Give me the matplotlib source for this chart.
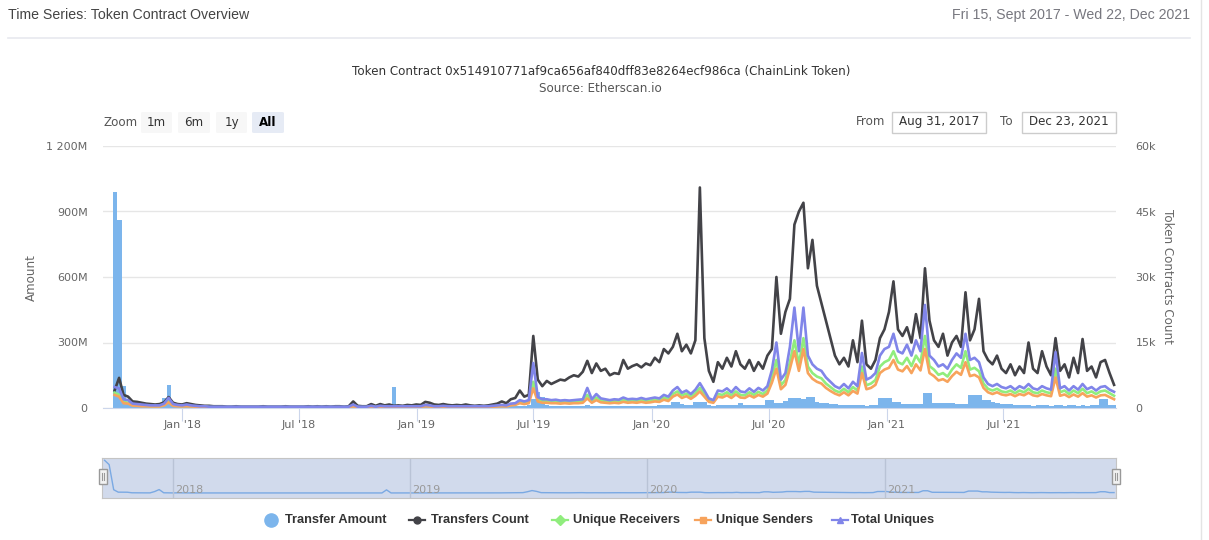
import matplotlib.pyplot as plt
import matplotlib.patches as mpatches
from matplotlib.lines import Line2D
import pandas as pd

plt.rcParams['font.family'] = ['DejaVu Sans']

W, H = 1209, 540


def fx(x):
    return x / W


def fy(y):
    return 1 - y / H


# weekly values, first week starts 2017-09-15
# transfer amount in millions of tokens
transfer_amount = [
    990, 860, 100, 27, 27, 25, 8, 6, 6, 5,
    5, 45, 105, 8, 5, 4, 6, 4, 3, 3,
    3, 3, 2, 2, 2, 2, 2, 2, 2, 2,
    2, 2, 2, 2, 2, 2, 2, 2, 2, 2,
    2, 2, 2, 2, 2, 2, 2, 2, 2, 2,
    2, 2, 2, 6, 3, 2, 2, 3, 2, 3,
    3, 3, 96, 3, 3, 3, 3, 3, 3, 6,
    5, 3, 3, 3, 3, 3, 3, 3, 3, 3,
    3, 3, 3, 3, 4, 5, 5, 5, 8, 8,
    10, 10, 12, 40, 75, 50, 12, 10, 8, 9,
    8, 10, 7, 9, 8, 12, 8, 10, 9, 7,
    8, 9, 7, 10, 8, 9, 8, 9, 10, 8,
    10, 12, 14, 15, 27, 27, 18, 16, 15, 27,
    27, 27, 12, 10, 12, 14, 12, 15, 13, 21,
    12, 14, 12, 13, 12, 37, 37, 22, 25, 30,
    46, 46, 46, 40, 50, 50, 27, 25, 23, 20,
    18, 15, 14, 12, 13, 12, 14, 11, 12, 14,
    46, 46, 46, 27, 27, 18, 18, 18, 18, 18,
    69, 69, 23, 23, 23, 23, 23, 20, 18, 18,
    60, 60, 60, 37, 37, 27, 22, 20, 18, 20,
    14, 12, 15, 12, 10, 12, 14, 12, 10, 12,
    12, 10, 12, 14, 11, 12, 10, 12, 13, 40,
    40, 14, 14,
]

# counts in thousands
transfers_count = [
    4.0, 6.9, 3.0, 2.6, 1.5, 1.4, 1.2, 1.0, 0.9, 0.8,
    0.9, 1.3, 2.5, 1.2, 0.9, 0.8, 1.1, 0.9, 0.7, 0.6,
    0.5, 0.5, 0.4, 0.4, 0.4, 0.3, 0.3, 0.4, 0.3, 0.3,
    0.3, 0.3, 0.3, 0.4, 0.3, 0.3, 0.3, 0.3, 0.4, 0.3,
    0.3, 0.3, 0.3, 0.4, 0.3, 0.4, 0.3, 0.4, 0.3, 0.4,
    0.4, 0.3, 0.4, 1.5, 0.5, 0.4, 0.4, 0.9, 0.5, 0.9,
    0.6, 0.8, 0.5, 0.6, 0.5, 0.7, 0.6, 0.8, 0.7, 1.4,
    1.2, 0.8, 0.7, 0.9, 0.7, 0.6, 0.7, 0.6, 0.8, 0.6,
    0.5, 0.6, 0.5, 0.6, 0.8, 1.0, 1.5, 1.1, 2.0, 2.3,
    4.0, 2.6, 3.0, 16.5, 6.5, 5.0, 6.2, 5.5, 6.0, 6.5,
    6.3, 7.0, 7.5, 7.2, 8.3, 10.8, 8.0, 10.2, 8.5, 9.0,
    7.5, 8.0, 7.8, 11.0, 9.0, 9.6, 10.0, 9.3, 10.2, 9.8,
    11.5, 10.5, 13.5, 12.5, 14.0, 17.0, 13.0, 14.5, 12.5, 15.5,
    50.5, 16.0, 8.5, 6.0, 10.5, 9.0, 11.5, 9.5, 13.0, 10.0,
    9.0, 11.0, 8.5, 10.5, 9.0, 12.0, 13.5, 30.0, 17.0, 22.0,
    25.0, 42.0, 45.0, 47.0, 32.0, 38.5, 28.0, 24.0, 20.0, 16.0,
    12.0, 10.0, 11.5, 9.5, 15.5, 10.5, 20.0, 10.0, 9.0, 11.0,
    16.0, 18.0, 22.0, 29.0, 18.0, 16.5, 18.5, 15.0, 21.5, 16.0,
    32.0, 20.0, 15.5, 14.0, 17.0, 12.0, 15.0, 16.5, 14.0, 26.5,
    15.5, 18.0, 25.0, 13.0, 11.0, 10.0, 12.0, 9.0, 8.0, 10.0,
    7.5, 9.5, 8.0, 15.0, 9.0, 8.0, 13.0, 9.5, 7.5, 16.0,
    8.5, 10.0, 7.0, 11.5, 8.0, 15.8, 8.5, 9.5, 7.0, 10.5,
    11.0, 8.0, 5.3,
]

unique_receivers = [
    3.5, 3.0, 1.4, 1.2, 0.7, 0.6, 0.5, 0.5, 0.4, 0.4,
    0.4, 0.7, 1.6, 0.6, 0.5, 0.4, 0.5, 0.4, 0.35, 0.3,
    0.3, 0.2, 0.2, 0.2, 0.2, 0.2, 0.2, 0.2, 0.2, 0.2,
    0.2, 0.2, 0.2, 0.2, 0.2, 0.2, 0.2, 0.2, 0.2, 0.2,
    0.2, 0.2, 0.2, 0.2, 0.2, 0.2, 0.2, 0.2, 0.2, 0.2,
    0.2, 0.2, 0.2, 0.5, 0.2, 0.2, 0.2, 0.35, 0.2, 0.35,
    0.3, 0.3, 0.3, 0.3, 0.3, 0.3, 0.3, 0.3, 0.3, 0.5,
    0.4, 0.3, 0.3, 0.35, 0.3, 0.3, 0.3, 0.3, 0.3, 0.3,
    0.3, 0.3, 0.3, 0.3, 0.35, 0.45, 0.5, 0.45, 0.8, 0.9,
    1.4, 1.2, 1.4, 6.0, 2.0, 1.6, 1.6, 1.4, 1.5, 1.4,
    1.4, 1.4, 1.4, 1.5, 1.6, 3.0, 1.6, 2.4, 1.7, 1.6,
    1.4, 1.6, 1.5, 1.8, 1.6, 1.7, 1.6, 1.8, 1.6, 1.7,
    1.9, 1.8, 2.4, 2.1, 3.2, 3.8, 2.9, 3.3, 2.6, 3.4,
    4.6, 3.2, 1.8, 1.5, 3.2, 3.0, 3.6, 2.9, 3.8, 3.0,
    2.9, 3.6, 3.0, 3.7, 3.2, 4.0, 7.0, 11.0, 5.2, 6.4,
    10.5, 15.5, 10.0, 16.0, 9.5, 8.0, 7.2, 6.8, 5.6, 4.8,
    4.0, 3.6, 4.4, 3.6, 4.8, 4.0, 9.5, 5.2, 5.6, 6.4,
    9.5, 10.5, 11.0, 13.0, 10.5, 10.0, 11.5, 9.6, 12.0, 10.4,
    16.5, 9.6, 8.8, 7.6, 8.0, 7.2, 8.8, 10.0, 9.2, 13.0,
    8.8, 9.2, 8.4, 5.6, 4.4, 4.0, 4.4, 3.8, 3.6, 4.0,
    3.4, 4.0, 3.6, 4.4, 3.6, 3.4, 4.0, 3.6, 3.4, 9.0,
    3.6, 4.0, 3.2, 4.0, 3.4, 4.4, 3.4, 3.8, 3.2, 3.8,
    4.0, 3.4, 2.8,
]

unique_senders = [
    3.0, 2.6, 1.1, 1.0, 0.55, 0.5, 0.4, 0.4, 0.35, 0.35,
    0.35, 0.6, 1.3, 0.5, 0.4, 0.35, 0.4, 0.35, 0.3, 0.25,
    0.25, 0.15, 0.15, 0.15, 0.15, 0.15, 0.15, 0.15, 0.15, 0.15,
    0.15, 0.15, 0.15, 0.15, 0.15, 0.15, 0.15, 0.15, 0.15, 0.15,
    0.15, 0.15, 0.15, 0.15, 0.15, 0.15, 0.15, 0.15, 0.15, 0.15,
    0.15, 0.15, 0.15, 0.4, 0.15, 0.15, 0.15, 0.3, 0.15, 0.3,
    0.25, 0.25, 0.25, 0.25, 0.25, 0.25, 0.25, 0.25, 0.25, 0.4,
    0.35, 0.25, 0.25, 0.3, 0.25, 0.25, 0.25, 0.25, 0.25, 0.25,
    0.25, 0.25, 0.25, 0.25, 0.3, 0.35, 0.4, 0.35, 0.6, 0.7,
    1.1, 0.9, 1.1, 4.5, 1.5, 1.2, 1.2, 1.1, 1.1, 1.0,
    1.1, 1.0, 1.1, 1.1, 1.2, 2.2, 1.2, 1.8, 1.3, 1.2,
    1.1, 1.2, 1.1, 1.4, 1.2, 1.3, 1.2, 1.4, 1.2, 1.3,
    1.5, 1.4, 1.9, 1.6, 2.6, 3.1, 2.3, 2.7, 2.1, 2.8,
    3.8, 2.6, 1.4, 1.2, 2.6, 2.4, 2.9, 2.3, 3.1, 2.4,
    2.3, 2.9, 2.4, 3.0, 2.6, 3.3, 5.8, 9.0, 4.3, 5.3,
    9.0, 13.0, 8.5, 13.5, 8.0, 6.7, 6.0, 5.6, 4.6, 3.9,
    3.3, 2.9, 3.6, 2.9, 3.9, 3.3, 8.0, 4.3, 4.6, 5.3,
    8.0, 8.8, 9.2, 11.0, 8.8, 8.4, 9.6, 8.0, 10.0, 8.6,
    13.5, 8.0, 7.3, 6.3, 6.6, 6.0, 7.3, 8.3, 7.6, 10.5,
    7.3, 7.6, 7.0, 4.6, 3.6, 3.2, 3.6, 3.1, 2.9, 3.2,
    2.7, 3.2, 2.9, 3.5, 2.9, 2.7, 3.2, 2.9, 2.7, 7.0,
    2.8, 3.1, 2.5, 3.1, 2.6, 3.4, 2.6, 2.9, 2.4, 2.9,
    3.0, 2.5, 2.0,
]

total_uniques = [
    4.8, 4.5, 2.0, 1.8, 1.0, 0.9, 0.8, 0.7, 0.6, 0.6,
    0.6, 1.0, 2.3, 0.9, 0.7, 0.6, 0.8, 0.6, 0.5, 0.4,
    0.4, 0.3, 0.3, 0.3, 0.3, 0.3, 0.3, 0.3, 0.3, 0.3,
    0.3, 0.3, 0.3, 0.3, 0.3, 0.3, 0.3, 0.3, 0.3, 0.3,
    0.3, 0.3, 0.3, 0.3, 0.3, 0.3, 0.3, 0.3, 0.3, 0.3,
    0.3, 0.3, 0.3, 0.8, 0.3, 0.3, 0.3, 0.5, 0.3, 0.5,
    0.4, 0.4, 0.4, 0.4, 0.4, 0.4, 0.4, 0.4, 0.4, 0.7,
    0.6, 0.4, 0.4, 0.5, 0.4, 0.4, 0.4, 0.4, 0.4, 0.4,
    0.4, 0.4, 0.4, 0.4, 0.5, 0.6, 0.7, 0.6, 1.0, 1.1,
    1.8, 1.5, 1.8, 10.3, 2.5, 2.0, 2.0, 1.8, 1.9, 1.7,
    1.8, 1.7, 1.8, 1.9, 2.0, 4.6, 2.0, 3.2, 2.2, 2.0,
    1.8, 2.0, 1.9, 2.4, 2.0, 2.1, 2.0, 2.3, 2.0, 2.2,
    2.4, 2.2, 3.0, 2.6, 4.0, 4.8, 3.5, 4.0, 3.2, 4.2,
    5.7, 4.0, 2.2, 1.8, 4.0, 3.8, 4.5, 3.6, 4.8, 3.8,
    3.6, 4.5, 3.7, 4.6, 4.0, 5.0, 8.7, 15.0, 6.5, 8.0,
    14.0, 23.0, 13.0, 23.0, 12.0, 10.0, 9.0, 8.5, 7.0, 6.0,
    5.0, 4.5, 5.5, 4.5, 6.0, 5.0, 12.6, 6.5, 7.0, 8.0,
    12.0, 13.5, 14.0, 17.0, 13.0, 12.5, 14.5, 12.0, 15.5, 13.0,
    23.6, 12.0, 11.0, 9.5, 10.0, 9.0, 11.0, 12.5, 11.5, 17.0,
    11.0, 11.5, 10.5, 7.0, 5.5, 5.0, 5.5, 4.8, 4.5, 5.0,
    4.2, 5.0, 4.5, 5.5, 4.5, 4.2, 5.0, 4.5, 4.2, 12.8,
    4.5, 5.0, 4.0, 5.0, 4.2, 5.5, 4.3, 4.8, 4.0, 4.8,
    5.0, 4.2, 3.7,
]

x_ticks = ['2018-01-01', '2018-07-01', '2019-01-01', '2019-07-01',
           '2020-01-01', '2020-07-01', '2021-01-01', '2021-07-01']
x_labels = ["Jan '18", "Jul '18", "Jan '19", "Jul '19",
            "Jan '20", "Jul '20", "Jan '21", "Jul '21"]
amount_ticks = [0, 300, 600, 900, 1200]
amount_labels = ['0', '300M', '600M', '900M', '1 200M']
count_ticks = [0, 15, 30, 45, 60]
count_labels = ['0', '15k', '30k', '45k', '60k']
nav_years = ['2018', '2019', '2020', '2021']

n = len(transfers_count)
assert all(len(s) == n for s in
           [transfer_amount, unique_receivers, unique_senders, total_uniques])

weeks = pd.date_range('2017-09-15', periods=n, freq='7D')
mid = weeks + pd.Timedelta(days=3)

C_AMOUNT = '#7cb5ec'
C_COUNT = '#434348'
C_RECV = '#90ed7d'
C_SEND = '#f7a35c'
C_UNIQ = '#8085e9'
GRID = '#e6e6e6'
LABEL = '#666666'
LW = 1.9

fig = plt.figure(figsize=(W / 100, H / 100), dpi=100)

# header
narrow = ['Liberation Sans Narrow', 'Liberation Sans', 'DejaVu Sans']
fig.text(fx(8), fy(15), 'Time Series: Token Contract Overview', family=narrow,
         fontsize=10.2, color='#444444', ha='left', va='center')
fig.text(fx(1190), fy(15), 'Fri 15, Sept 2017 - Wed 22, Dec 2021', family=narrow,
         fontsize=10.2, color='#77777f', ha='right', va='center')
fig.add_artist(Line2D([fx(8), fx(1190)], [fy(38), fy(38)], color='#e7e9ef', lw=1.2))
fig.add_artist(Line2D([fx(1201), fx(1201)], [0, 1], color='#e4e4e4', lw=1))

fig.text(0.497, fy(71), 'Token Contract 0x514910771af9ca656af840dff83e8264ecf986ca (ChainLink Token)',
         fontsize=8.6, color='#333333', ha='center', va='center')
fig.text(0.497, fy(88), 'Source: Etherscan.io', fontsize=8.6, color='#555555',
         ha='center', va='center')

# range selector
fig.text(fx(103), fy(123), 'Zoom', fontsize=8.6, color='#555555', ha='left', va='center')
buttons = [('1m', 141, 172), ('6m', 178, 210), ('1y', 216, 247), ('All', 252, 284)]
for lab, x0, x1 in buttons:
    sel = lab == 'All'
    fig.add_artist(mpatches.FancyBboxPatch(
        (fx(x0), fy(133)), (x1 - x0) / W, 21 / H,
        boxstyle='round,pad=0,rounding_size=0.002', transform=fig.transFigure,
        facecolor='#e6ebf5' if sel else '#f7f7f7', edgecolor='none'))
    fig.text(fx((x0 + x1) / 2), fy(122.5), lab, fontsize=8.6,
             color='#000000' if sel else '#333333',
             fontweight='bold' if sel else 'normal', ha='center', va='center')

fig.text(fx(885), fy(122), 'From', fontsize=8.6, color='#555555', ha='right', va='center')
fig.text(fx(1013), fy(122), 'To', fontsize=8.6, color='#555555', ha='right', va='center')
for lab, x0, x1 in [('Aug 31, 2017', 892, 986), ('Dec 23, 2021', 1022, 1116)]:
    fig.add_artist(mpatches.Rectangle((fx(x0), fy(133)), (x1 - x0) / W, 21 / H,
                                      transform=fig.transFigure, facecolor='white',
                                      edgecolor='#cccccc', lw=1))
    fig.text(fx((x0 + x1) / 2), fy(122), lab, fontsize=8.6, color='#333333',
             ha='center', va='center')

# main chart
ax = fig.add_axes([fx(103), fy(408), (1116 - 103) / W, (408 - 146) / H])
ax.bar(weeks, transfer_amount, width=7, align='edge', color=C_AMOUNT, linewidth=0)
ax.set_ylim(0, 1200)
ax.set_xlim(pd.Timestamp('2017-08-31'), pd.Timestamp('2021-12-23'))
ax.set_yticks(amount_ticks)
ax.set_yticklabels(amount_labels)
ax.set_xticks(pd.to_datetime(x_ticks))
ax.set_xticklabels(x_labels)
ax.grid(axis='y', color=GRID, lw=1)
ax.set_axisbelow(True)
for s in ['top', 'left', 'right']:
    ax.spines[s].set_visible(False)
ax.spines['bottom'].set_color('#ccd6eb')
ax.tick_params(axis='x', length=9, color='#ccd6eb', labelcolor=LABEL,
               labelsize=8, pad=0)
ax.tick_params(axis='y', length=0, labelcolor=LABEL, labelsize=8, pad=11)

ax2 = ax.twinx()
ax2.plot(mid, transfers_count, color=C_COUNT, lw=LW)
ax2.plot(mid, unique_receivers, color=C_RECV, lw=LW)
ax2.plot(mid, unique_senders, color=C_SEND, lw=LW)
ax2.plot(mid, total_uniques, color=C_UNIQ, lw=LW)
ax2.set_ylim(0, 60)
ax2.set_yticks(count_ticks)
ax2.set_yticklabels(count_labels)
for s in ax2.spines.values():
    s.set_visible(False)
ax2.tick_params(axis='y', length=0, labelcolor=LABEL, labelsize=8, pad=14)

fig.text(fx(31), fy(278), 'Amount', rotation=90, fontsize=8.6, color=LABEL,
         ha='center', va='center')
fig.text(fx(1167), fy(276), 'Token Contracts Count', rotation=270, fontsize=8.6,
         color=LABEL, ha='center', va='center')

# navigator
nav = fig.add_axes([fx(102), fy(498), (1116 - 102) / W, 40 / H])
nav.set_facecolor('#d1daec')
nav.plot(mid, transfer_amount, color='#7aa9e3', lw=1)
nav.set_xlim(pd.Timestamp('2017-09-14'), pd.Timestamp('2021-12-23'))
nav.set_ylim(-150, 1060)
for yr in nav_years:
    d = pd.Timestamp(yr + '-01-01')
    nav.axvline(d, color='#b9c3d6', lw=1)
    nav.text(d + pd.Timedelta(days=4), -70, yr, fontsize=8, color='#999999',
             ha='left', va='bottom')
nav.set_xticks([])
nav.set_yticks([])
for s in nav.spines.values():
    s.set_color('#c4c4c4')
for xc in [103, 1116]:
    fig.add_artist(mpatches.Rectangle((fx(xc - 4), fy(484)), 8 / W, 15 / H,
                                      transform=fig.transFigure, facecolor='#f2f2f2',
                                      edgecolor='#999999', lw=1, zorder=5))
    for dx in [-1.2, 1.2]:
        fig.add_artist(Line2D([fx(xc + dx), fx(xc + dx)], [fy(480), fy(473)],
                              color='#999999', lw=0.8, zorder=6))

# legend
leg_y = fy(520)
fig.add_artist(Line2D([fx(271)], [leg_y], marker='o', markersize=9.5, color=C_AMOUNT,
                      linestyle='none'))
items = [
    (271, 285, 'Transfer Amount', None, None),
    (417, 431, 'Transfers Count', C_COUNT, 'o'),
    (560, 573, 'Unique Receivers', C_RECV, 'D'),
    (703, 716, 'Unique Senders', C_SEND, 's'),
    (840, 851, 'Total Uniques', C_UNIQ, '^'),
]
for xm, xt, lab, col, mk in items:
    if col is not None:
        fig.add_artist(Line2D([fx(xm - 8), fx(xm + 8)], [leg_y, leg_y], color=col, lw=1.6))
        fig.add_artist(Line2D([fx(xm)], [leg_y], marker=mk, markersize=5, color=col,
                              linestyle='none'))
    fig.text(fx(xt), leg_y, lab, family=['Liberation Sans', 'DejaVu Sans'],
             fontsize=9.2, fontweight='bold', color='#333333', ha='left', va='center')

fig.savefig('out.png', dpi=100)
